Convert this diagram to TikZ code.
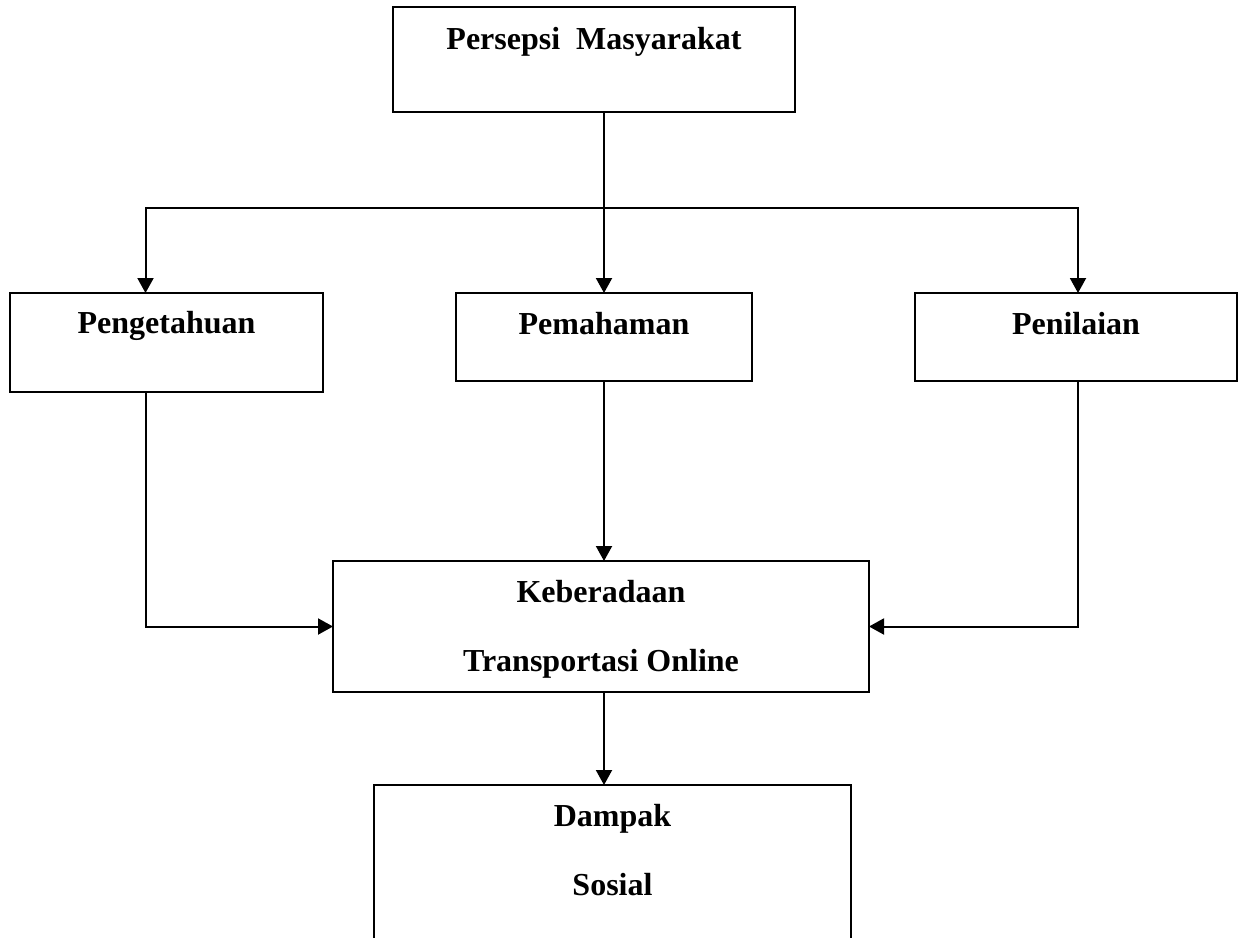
\documentclass[tikz,border=0pt]{standalone}
\usepackage{fontspec}
\setmainfont{Liberation Serif}
\usetikzlibrary{arrows.meta}

\begin{document}
\begin{tikzpicture}[
      x=1pt, y=-1pt,
      every node/.style={font=\fontsize{32}{38}\selectfont\bfseries, align=center},
      box/.style={draw, line width=2pt, inner sep=0pt, outer sep=0pt, anchor=north west},
      arr/.style={draw, line width=2pt, -{Triangle[length=15pt,width=16pt]}}
    ]
    \useasboundingbox (0,0) rectangle (1246,937);
    \clip (0,0) rectangle (1246,937);

    % Top node
    \node[box, minimum width=402pt, text height=42pt, text depth=63pt] (persepsi) at (393,7) {Persepsi\ \ Masyarakat};

    % Three aspects
    \node[box, minimum width=313pt, text height=40pt, text depth=59pt] (pengetahuan) at (10,293) {Pengetahuan};
    \node[box, minimum width=296pt, text height=41pt, text depth=47pt] (pemahaman) at (456,293) {Pemahaman};
    \node[box, minimum width=322pt, text height=41pt, text depth=47pt] (penilaian) at (915,293) {Penilaian};

    % Lower nodes (text height runs to the last line)
    \node[box, minimum width=536pt, text height=110pt, text depth=21pt] (keberadaan) at (333,561) {Keberadaan\\[31pt]Transportasi Online};
    \node[box, minimum width=477pt, text height=110pt, text depth=105pt] (dampak) at (374,785) {Dampak\\[31pt]Sosial};

    % Branching
    \coordinate (cabang) at (604,208);
    \draw[arr] (persepsi.south -| cabang) -- (pemahaman.north -| cabang);
    \draw[arr] (cabang) -| ([xshift=-21pt]pengetahuan.north);
    \draw[arr] (cabang) -| ([xshift=2pt]penilaian.north);

    % Into Keberadaan
    \draw[arr] ([xshift=-21pt]pengetahuan.south) |- (keberadaan.west);
    \draw[arr] ([xshift=2pt]penilaian.south) |- (keberadaan.east);
    \draw[arr] (pemahaman.south -| cabang) -- (keberadaan.north -| cabang);
    \draw[arr] (keberadaan.south -| cabang) -- (dampak.north -| cabang);

\end{tikzpicture}
\end{document}
